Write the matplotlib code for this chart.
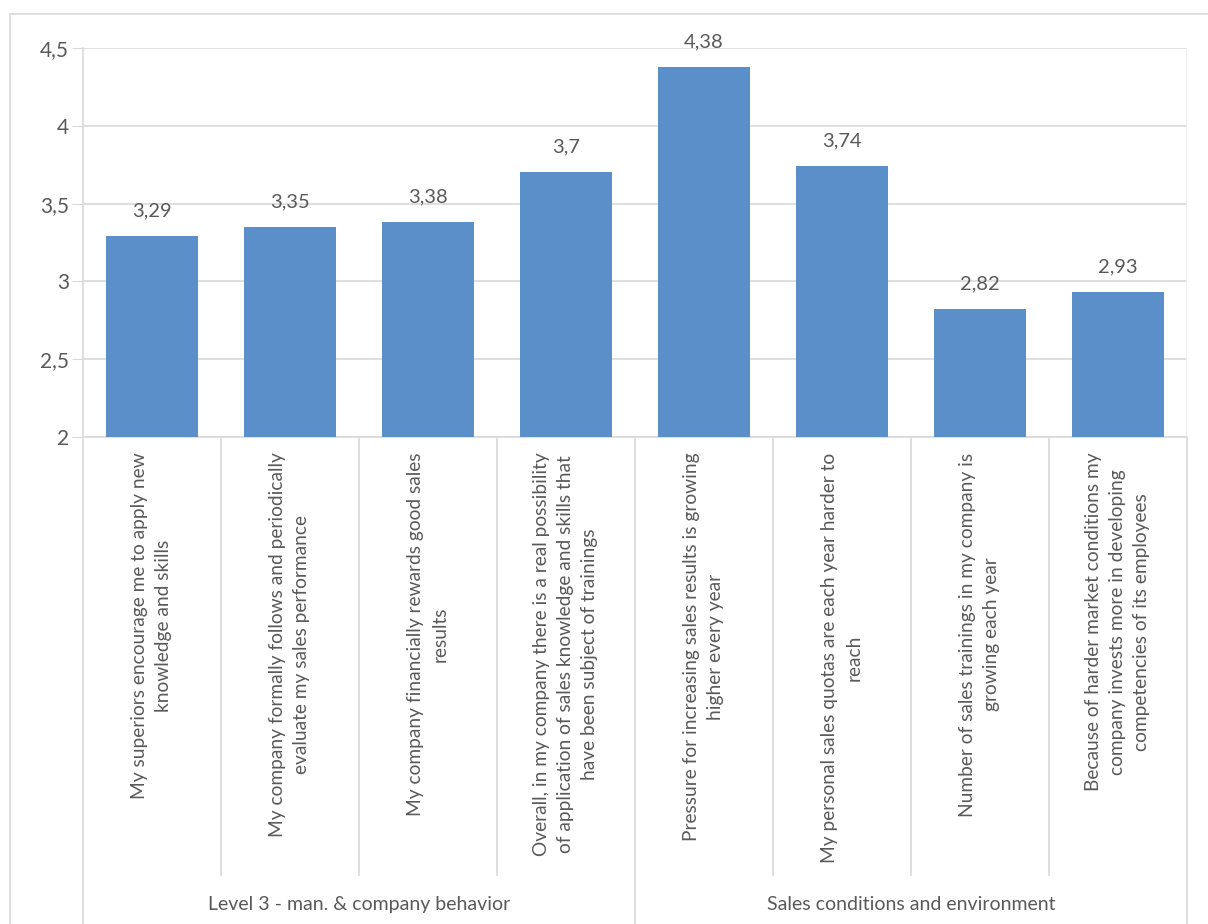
import matplotlib
matplotlib.use('Agg')
import matplotlib.pyplot as plt
from matplotlib.patches import Rectangle
import numpy as np

plt.rcParams['font.family'] = ['Lato', 'DejaVu Sans']

# data
categories = [
    'My superiors encourage me to apply new\nknowledge and skills',
    'My company formally follows and periodically\nevaluate my sales performance',
    'My company financially rewards good sales\nresults',
    'Overall, in my company there is a real possibility\nof application of sales knowledge and skills that\nhave been subject of trainings',
    'Pressure for increasing sales results is growing\nhigher every year',
    'My personal sales quotas are each year harder to\nreach',
    'Number of sales trainings in my company is\ngrowing each year',
    'Because of harder market conditions my\ncompany invests more in developing\ncompetencies of its employees',
]
values = [3.29, 3.35, 3.38, 3.7, 4.38, 3.74, 2.82, 2.93]
value_labels = ['3,29', '3,35', '3,38', '3,7', '4,38', '3,74', '2,82', '2,93']
groups = ['Level 3 - man. & company behavior', 'Sales conditions and environment']
group_sizes = [4, 4]
yticks = [2, 2.5, 3, 3.5, 4, 4.5]
ytick_labels = ['2', '2,5', '3', '3,5', '4', '4,5']

text_col = '#595959'
grid_col = '#d9d9d9'
bar_col = '#5b8fca'

fig = plt.figure(figsize=(12.08, 9.24), dpi=100)
ax = fig.add_axes([83/1208, 1 - 437/924, (1187-83)/1208, (437-48)/924])

x = np.arange(len(values))
ax.bar(x, values, width=0.66, color=bar_col, zorder=3)
for xi, v, lab in zip(x, values, value_labels):
    ax.annotate(lab, (xi, v), xytext=(0, 12), textcoords='offset points',
                ha='center', va='bottom', fontsize=14.5, color=text_col)

ax.set_xlim(-0.5, len(values) - 0.5)
ax.set_ylim(2, 4.5)
ax.set_yticks(yticks)
ax.set_yticklabels(ytick_labels, fontsize=15, color=text_col)
ax.yaxis.grid(True, color=grid_col, lw=1.2, zorder=0)
ax.tick_params(axis='y', length=8, color=grid_col, pad=2)
ax.set_xticks([])
for s in ['top', 'right']:
    ax.spines[s].set_visible(False)
ax.spines['left'].set_color(grid_col)
ax.spines['bottom'].set_color(grid_col)
ax.spines['left'].set_linewidth(1.2)
ax.spines['bottom'].set_linewidth(1.2)

# category labels, rotated
tr = ax.get_xaxis_transform()
for xi, cat in zip(x, categories):
    ax.text(xi, -0.04, cat, transform=tr, rotation=90, ha='center', va='top',
            multialignment='center', fontsize=13.8, color=text_col, linespacing=1.5)

# separators and group labels
bounds = np.cumsum([0] + group_sizes) - 0.5
for b in np.arange(-0.5, len(values)):
    long_line = np.any(np.isclose(bounds, b))
    ax.plot([b, b], [0, -1.26 if long_line else -1.126], transform=tr,
            color=grid_col, lw=1.2, clip_on=False)
ax.plot([len(values) - 0.5] * 2, [0, 1], transform=tr, color='#ececec', lw=1.2)
for g, a, b in zip(groups, bounds[:-1], bounds[1:]):
    ax.text((a + b) / 2, -1.203, g, transform=tr, ha='center', va='center',
            fontsize=14, color=text_col)

# outer chart frame
fig.patches.append(Rectangle((10/1208, -0.1), 1.2, 1 - 14/924 + 0.1, transform=fig.transFigure,
                             fill=False, edgecolor='#d9d9d9', lw=1.2))

fig.savefig('out.png', dpi=100)
